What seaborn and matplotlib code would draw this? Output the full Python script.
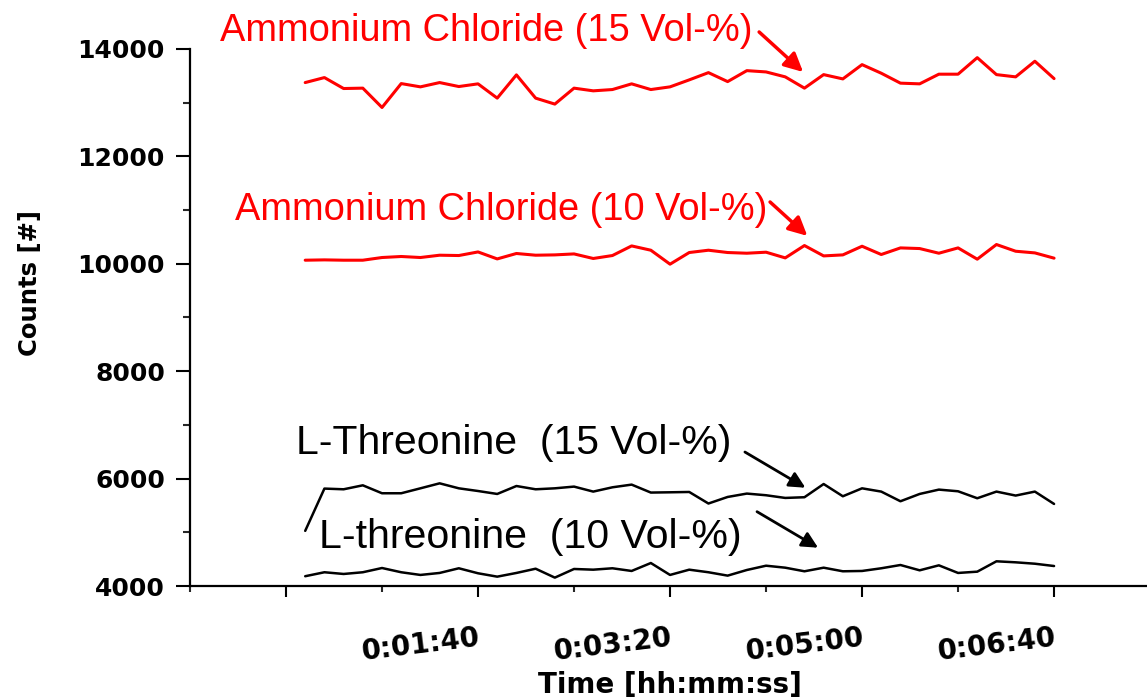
import matplotlib
matplotlib.use("Agg")
import matplotlib.pyplot as plt
from matplotlib.ticker import MultipleLocator, FuncFormatter
import numpy as np
import pandas as pd
import seaborn as sns

# Sampling times in seconds (one reading every 10 s)
time_s = list(range(10, 410, 10))

nh4cl_15 = [13375, 13468, 13264, 13271, 12911, 13356, 13295, 13375, 13301, 13351,
            13085, 13518, 13085, 12974, 13271, 13221, 13245, 13351, 13245, 13295,
            13425, 13560, 13393, 13597, 13573, 13481, 13271, 13523, 13443, 13709,
            13549, 13364, 13351, 13531, 13531, 13839, 13523, 13481, 13772, 13449]

nh4cl_10 = [10067, 10073, 10067, 10067, 10117, 10136, 10117, 10160, 10154, 10221,
            10091, 10192, 10160, 10166, 10184, 10099, 10154, 10333, 10253, 9993,
            10210, 10253, 10210, 10197, 10216, 10110, 10340, 10147, 10166, 10327,
            10173, 10296, 10284, 10197, 10296, 10086, 10359, 10234, 10203, 10105]

thr_15 = [5027, 5814, 5801, 5875, 5727, 5727, 5819, 5912, 5819, 5769,
          5714, 5862, 5801, 5819, 5851, 5758, 5838, 5888, 5740, 5745,
          5751, 5536, 5658, 5721, 5690, 5640, 5653, 5899, 5671, 5819,
          5758, 5578, 5714, 5795, 5764, 5634, 5758, 5684, 5758, 5528]

thr_10 = [4182, 4256, 4224, 4256, 4335, 4256, 4206, 4243, 4330, 4237,
          4174, 4243, 4322, 4156, 4317, 4304, 4330, 4280, 4428, 4206,
          4304, 4256, 4193, 4298, 4378, 4341, 4274, 4341, 4274, 4280,
          4330, 4391, 4292, 4385, 4243, 4267, 4460, 4441, 4415, 4372]

series_labels = ["Ammonium Chloride (15 Vol-%)",
                 "Ammonium Chloride (10 Vol-%)",
                 "L-Threonine  (15 Vol-%)",
                 "L-threonine  (10 Vol-%)"]
series_values = [nh4cl_15, nh4cl_10, thr_15, thr_10]
series_colors = ["#ff0000", "#ff0000", "#000000", "#000000"]
series_widths = [2.2, 2.2, 1.8, 1.8]

df = pd.concat(
    [pd.DataFrame({"time": time_s, "counts": vals, "series": lab})
     for lab, vals in zip(series_labels, series_values)],
    ignore_index=True)

sns.set_theme(style="ticks")
plt.rcParams["font.family"] = ["DejaVu Sans"]

fig = plt.figure(figsize=(11.47, 6.99), dpi=100)
ax = fig.add_axes([190 / 1147, 1 - 586 / 699, (1147 - 190) / 1147, (586 - 49) / 699])

for lab, col, lw in zip(series_labels, series_colors, series_widths):
    sns.lineplot(data=df[df["series"] == lab], x="time", y="counts",
                 color=col, linewidth=lw, ax=ax, legend=False)

ax.set_xlim(-50, 448.4)
ax.set_ylim(4000, 14000)

# Axes styling: only left and bottom spines, outward ticks
sns.despine(ax=ax)
for side in ("left", "bottom"):
    ax.spines[side].set_linewidth(1.6)
    ax.spines[side].set_color("black")

ax.yaxis.set_major_locator(MultipleLocator(2000))
ax.yaxis.set_minor_locator(MultipleLocator(1000))
ax.xaxis.set_major_locator(MultipleLocator(100))
ax.xaxis.set_minor_locator(MultipleLocator(50))


def hms(v, pos):
    v = int(round(v))
    if v <= 0:
        return ""
    return f"{v // 3600}:{(v % 3600) // 60:02d}:{v % 60:02d}"


ax.xaxis.set_major_formatter(FuncFormatter(hms))

ax.tick_params(axis="y", which="major", direction="out", length=10, width=1.5,
               pad=8, labelsize=18, colors="black")
ax.tick_params(axis="y", which="minor", direction="out", length=5, width=1.5)
ax.tick_params(axis="x", which="major", direction="out", length=8, width=1.5,
               pad=19, labelsize=20, colors="black")
ax.tick_params(axis="x", which="minor", direction="out", length=4.5, width=1.5)

for t in ax.get_yticklabels():
    t.set_fontweight("bold")
for t in ax.get_xticklabels():
    t.set_fontweight("bold")
    t.set_rotation(7)
    t.set_ha("right")
    t.set_va("top")
    t.set_rotation_mode("anchor")

ax.set_xlabel("Time [hh:mm:ss]", fontsize=20, fontweight="bold", color="black")
ax.set_ylabel("Counts [#]", fontsize=17.5, fontweight="bold", color="black")
ax.xaxis.set_label_coords(0.502, -0.158)
ax.yaxis.set_label_coords(-0.155, 0.564)

# Series labels with pointer arrows
ann_font = ["Liberation Sans", "DejaVu Sans"]
labels_pos = [(-34.4, 14149, 27.4), (-26.8, 10816, 27.4),
              (5.2, 6458, 29.5), (17.2, 4708, 29.6)]
arrows = [((246.4, 14317), (269.3, 13572)),
          ((252.1, 11151), (271.5, 10520)),
          ((239.0, 6495), (270.5, 5830)),
          ((245.3, 5384), (277.1, 4713))]
arrow_heads = [(2.5, 28), (2.5, 28), (2.0, 24), (2.0, 24)]

for lab, col, (tx, ty, fs), (start, tip), (alw, ams) in zip(
        series_labels, series_colors, labels_pos, arrows, arrow_heads):
    ax.text(tx, ty, lab, color=col, fontsize=fs, family=ann_font,
            ha="left", va="baseline", clip_on=False)
    ax.annotate("", xy=tip, xytext=start, annotation_clip=False,
                arrowprops=dict(arrowstyle="-|>", color=col, lw=alw,
                                mutation_scale=ams, shrinkA=0, shrinkB=0))

fig.savefig("out.png", dpi=100, facecolor="white")
